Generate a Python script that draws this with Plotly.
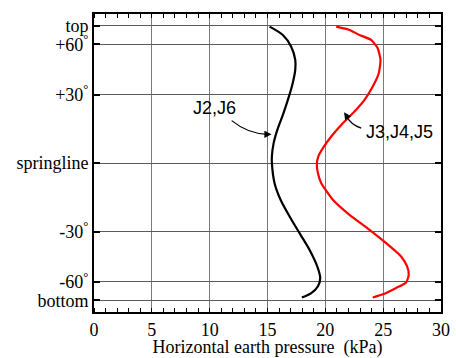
import plotly.graph_objects as go

# y positions: sin(angle from springline)
y_tickvals = [1.0, 0.866, 0.5, 0.0, -0.5, -0.866, -1.0]
y_ticktext = ["top", "+60<sup>°</sup>", "+30<sup>°</sup>", "springline",
              "-30<sup>°</sup>", "-60<sup>°</sup>", "bottom"]
x_tickvals = [0, 5, 10, 15, 20, 25, 30]

# J2,J6 (black)
j26_x = [15.18, 16.33, 17.05, 17.40, 17.40, 17.14, 16.76, 16.33, 15.85, 15.53, 15.38,
         15.38, 15.61, 16.13, 16.91, 17.77, 18.63, 19.30, 19.56, 19.35, 18.78, 17.97]
j26_y = [0.995, 0.934, 0.849, 0.752, 0.68, 0.570, 0.461, 0.352, 0.243, 0.146, 0.05,
         0.0, -0.146, -0.267, -0.389, -0.51, -0.631, -0.753, -0.838, -0.899, -0.947, -0.979]

# J3,J4,J5 (red)
j345_x = [20.94, 22.09, 22.95, 23.96, 24.53, 24.77, 24.62, 24.10, 23.39, 22.52, 21.51,
          20.51, 19.79, 19.40, 19.27, 19.35, 19.65, 20.65, 22.09, 23.82, 25.26, 26.55,
          27.07, 27.21, 26.99, 26.12, 25.11, 24.10]
j345_y = [0.995, 0.971, 0.934, 0.898, 0.838, 0.752, 0.655, 0.558, 0.461, 0.376, 0.291,
          0.194, 0.109, 0.05, 0.0, -0.07, -0.146, -0.267, -0.377, -0.486, -0.583, -0.680,
          -0.753, -0.814, -0.870, -0.910, -0.952, -0.979]

fig = go.Figure()
fig.add_trace(go.Scatter(x=j26_x, y=j26_y, mode="lines",
                         line=dict(color="black", width=2.2, shape="spline", smoothing=0.8),
                         showlegend=False, hoverinfo="skip"))
fig.add_trace(go.Scatter(x=j345_x, y=j345_y, mode="lines",
                         line=dict(color="#ff0000", width=2.2, shape="spline", smoothing=0.5),
                         showlegend=False, hoverinfo="skip"))

sans = "Liberation Sans, Arial, sans-serif"
serif = "Liberation Serif, Times New Roman, serif"

# curved leader lines
fig.add_shape(type="path", xref="x", yref="y",
              path="M 11.9,0.31 Q 13.3,0.215 15.0,0.21",
              line=dict(color="black", width=1.2))
fig.add_shape(type="path", xref="x", yref="y",
              path="M 23.1,0.255 Q 22.2,0.28 21.75,0.35",
              line=dict(color="black", width=1.2))

fig.add_annotation(x=15.35, y=0.21, ax=-8, ay=0, xref="x", yref="y",
                   text="", showarrow=True, arrowhead=2, arrowsize=1.2,
                   arrowwidth=1.2, arrowcolor="black")
fig.add_annotation(x=21.62, y=0.37, ax=4, ay=6, xref="x", yref="y",
                   text="", showarrow=True, arrowhead=2, arrowsize=1.2,
                   arrowwidth=1.2, arrowcolor="black")

fig.add_annotation(x=10.45, y=0.40, xref="x", yref="y", text="J2,J6",
                   showarrow=False, font=dict(family=sans, size=18, color="black"))
fig.add_annotation(x=26.4, y=0.225, xref="x", yref="y", text="J3,J4,J5",
                   showarrow=False, font=dict(family=sans, size=18, color="black"))

fig.update_layout(
    template="none",
    width=456, height=358,
    margin=dict(l=94, r=15, t=14, b=46, autoexpand=False),
    paper_bgcolor="white", plot_bgcolor="white",
    font=dict(family=serif, size=18, color="black"),
    xaxis=dict(range=[0, 30], tickvals=x_tickvals, automargin=False,
               ticks="", showgrid=True, gridcolor="#7a7a7a", gridwidth=1,
               showline=True, linecolor="black", linewidth=2, mirror="ticks",
               minor=dict(dtick=1, ticks="inside", ticklen=4, tickcolor="black",
                          tickwidth=1.2, showgrid=False),
               zeroline=False,
               title=dict(text="Horizontal earth pressure  (kPa)", standoff=1,
                          font=dict(family=serif, size=18)),
               tickfont=dict(family=serif, size=18)),
    yaxis=dict(range=[-1.085, 1.087], tickvals=y_tickvals, ticktext=y_ticktext,
               automargin=False,
               ticks="inside", ticklen=6, tickcolor="black", tickwidth=1.5,
               showgrid=True, gridcolor="#5a5a5a", gridwidth=1,
               showline=True, linecolor="black", linewidth=2, mirror="ticks",
               zeroline=False, tickfont=dict(family=serif, size=18)),
)

fig.write_html("out.html", config={"displayModeBar": False},
               post_script="document.body.style.margin='0';document.body.style.padding='0';document.body.style.overflow='hidden';")
